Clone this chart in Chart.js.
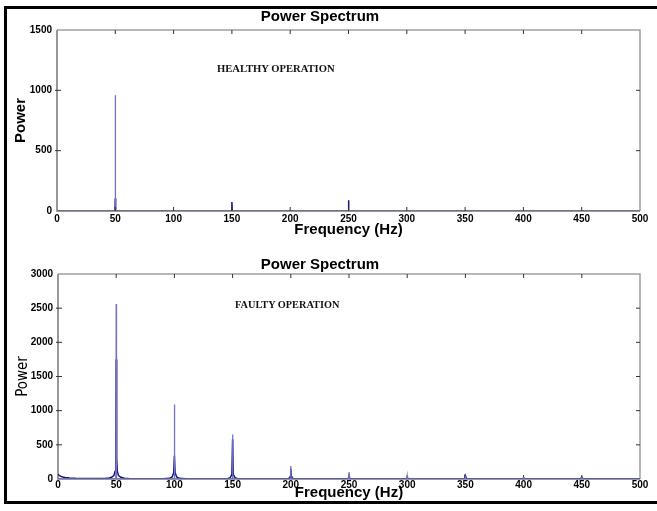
<!DOCTYPE html>
<html>
<head>
<meta charset="utf-8">
<script src="https://cdn.jsdelivr.net/npm/chart.js@4"></script>
<style>
  body { margin: 0; background: #fff; width: 657px; height: 511px; position: relative; overflow: hidden; }
  .box { position: absolute; left: 4px; top: 6px; width: 700px; height: 492px; border-top: 3px solid #000; border-left: 3px solid #000; border-bottom: 3px solid #000; }
  .note { position: absolute; font-family: "Liberation Serif", "Times New Roman", serif; font-weight: bold; white-space: nowrap; color: #111; }
  canvas { position: absolute; left: 0; }
</style>
</head>
<body>
<canvas id="top" width="657" height="240" style="top:8px"></canvas>
<canvas id="bottom" width="657" height="252" style="top:250px"></canvas>
<div class="box"></div>
<div class="note" style="left:217px; top:63px; font-size:10.6px;">HEALTHY OPERATION</div>
<div class="note" style="left:235px; top:299px; font-size:10.3px;">FAULTY OPERATION</div>
<script>
// Espectro de potência - operação saudável
const healthyPeakFreq  = [0, 49.8, 50, 50.2, 500];
const healthyPeakPower = [0, 0, 960, 0, 0];
const healthyBaseFreq  = [0, 49.7, 50, 50.3, 149.7, 150, 150.3, 249.7, 250, 250.3, 500];
const healthyBasePower = [0, 0, 105, 0, 0, 75, 0, 0, 90, 0, 0];

// Espectro de potência - operação com falha
const faultyPeakFreq  = [0, 49.75, 50, 50.25, 99.75, 100, 100.25, 149.75, 150, 150.25,
                         199.75, 200, 200.25, 249.75, 250, 250.25, 299.75, 300, 300.25,
                         349.75, 350, 350.25, 399.75, 400, 400.25, 449.75, 450, 450.25, 500];
const faultyPeakPower = [0, 0, 2560, 0, 0, 1090, 0, 0, 650, 0,
                         0, 190, 0, 0, 100, 0, 0, 40, 0,
                         0, 50, 0, 0, 30, 0, 0, 40, 0, 0];
const faultyBaseFreq  = [0, 1, 2, 4, 6, 10, 15, 20, 30, 40, 44, 46, 48, 49, 49.6, 50, 50.4, 51, 52, 54, 57, 62, 70,
                         90, 96, 98, 99.4, 100, 100.6, 102, 104, 110,
                         145, 148, 149.4, 150, 150.6, 152, 155,
                         197, 199, 199.6, 200, 200.4, 201, 203,
                         248, 249.6, 250, 250.4, 252,
                         299, 300, 301, 349, 349.6, 350, 350.4, 351,
                         399, 400, 401, 449, 450, 451, 500];
const faultyBasePower = [70, 55, 42, 30, 22, 15, 10, 8, 6, 8, 15, 25, 50, 110, 300, 1750, 300, 110, 50, 25, 12, 5, 2,
                         2, 10, 30, 90, 340, 90, 30, 10, 2,
                         2, 20, 70, 580, 70, 20, 2,
                         2, 15, 40, 150, 40, 15, 2,
                         2, 10, 40, 10, 2,
                         2, 20, 2, 2, 30, 15, 30, 2,
                         2, 15, 2, 2, 30, 2, 2];

const xTicks = [0, 50, 100, 150, 200, 250, 300, 350, 400, 450, 500];
const healthyYTicks = [0, 500, 1000, 1500];
const faultyYTicks = [0, 500, 1000, 1500, 2000, 2500, 3000];

const peakColor = "#7373c4";
const baseColor = "#12128a";

function toPoints(xs, ys) {
    return xs.map((x, i) => ({ x: x, y: ys[i] }));
}

// Moldura estilo MATLAB com marcas para dentro
const framePlugin = {
    id: "frame",
    draw(chart) {
        const { ctx, chartArea: a, scales } = chart;
        const len = 4;
        ctx.save();
        ctx.lineWidth = 1.5;
        ctx.strokeStyle = "#a0a0a0";
        ctx.beginPath();
        ctx.moveTo(a.left, a.top); ctx.lineTo(a.right, a.top); ctx.lineTo(a.right, a.bottom);
        ctx.stroke();
        ctx.strokeStyle = "#777";
        ctx.beginPath();
        ctx.moveTo(a.left, a.top); ctx.lineTo(a.left, a.bottom); ctx.lineTo(a.right, a.bottom);
        ctx.stroke();
        ctx.lineWidth = 1;
        ctx.strokeStyle = "#333";
        ctx.beginPath();
        scales.x.ticks.forEach(t => {
            const px = scales.x.getPixelForValue(t.value);
            if (t.value === 0 || t.value === 500) return;
            ctx.moveTo(px, a.top); ctx.lineTo(px, a.top + len);
            ctx.moveTo(px, a.bottom); ctx.lineTo(px, a.bottom - len);
        });
        scales.y.ticks.forEach(t => {
            const py = scales.y.getPixelForValue(t.value);
            if (t.value === scales.y.min || t.value === scales.y.max) return;
            ctx.moveTo(a.left - 2, py); ctx.lineTo(a.left + len, py);
            ctx.moveTo(a.right, py); ctx.lineTo(a.right - len, py);
        });
        ctx.stroke();
        ctx.restore();
    },
    afterDatasetsDraw(chart, args, opts) { if (opts.onTop) this.draw(chart); },
    beforeDatasetsDraw(chart, args, opts) { if (!opts.onTop) this.draw(chart); }
};

const sans = "Liberation Sans, Arial, sans-serif";

function makeChart(id, cfg) {
    return new Chart(document.getElementById(id), {
        type: "scatter",
        data: {
            datasets: [
                { data: toPoints(cfg.peakFreq, cfg.peakPower), borderColor: peakColor, borderWidth: 1.3 },
                { data: toPoints(cfg.baseFreq, cfg.basePower), borderColor: baseColor, borderWidth: 1.5 }
            ].map(d => Object.assign(d, { showLine: true, pointRadius: 0, tension: 0 }))
        },
        options: {
            responsive: false,
            animation: false,
            layout: { padding: { left: 0, right: 17, top: 0, bottom: 0 } },
            plugins: {
                legend: { display: false },
                tooltip: { enabled: false },
                frame: { onTop: cfg.frameOnTop },
                title: {
                    display: true,
                    text: "Power Spectrum",
                    color: "#000",
                    font: { family: sans, size: 15, weight: "bold" },
                    padding: cfg.titlePadding
                }
            },
            scales: {
                x: {
                    type: "linear", min: 0, max: 500,
                    afterBuildTicks: s => { s.ticks = xTicks.map(v => ({ value: v })); },
                    afterFit: s => { s.height = cfg.xHeight; },
                    grid: { display: false, drawTicks: false },
                    border: { display: false },
                    ticks: { padding: cfg.xTickPad, color: "#000", maxRotation: 0, autoSkip: false,
                             callback: v => String(v),
                             font: { family: sans, size: 10, weight: "bold" } },
                    title: { display: true, text: "Frequency (Hz)", color: "#000",
                             padding: { top: 0, bottom: cfg.xTitlePad },
                             font: { family: sans, size: 15, weight: "bold" } }
                },
                y: {
                    min: 0, max: cfg.yMax,
                    afterBuildTicks: s => { s.ticks = cfg.yTicks.map(v => ({ value: v })); },
                    afterFit: s => { s.width = cfg.yWidth; },
                    grid: { display: false, drawTicks: false },
                    border: { display: false },
                    ticks: { padding: 5, color: "#000",
                             callback: v => String(v),
                             font: { family: sans, size: 10, weight: "bold" } },
                    title: { display: true, text: "Power", color: "#000",
                             padding: { top: cfg.yTitlePad, bottom: 0 },
                             font: cfg.yTitleFont }
                }
            }
        },
        plugins: [framePlugin]
    });
}

makeChart("top", {
    peakFreq: healthyPeakFreq, peakPower: healthyPeakPower,
    baseFreq: healthyBaseFreq, basePower: healthyBasePower,
    yMax: 1500, yTicks: healthyYTicks, frameOnTop: true,
    titlePadding: { top: 0, bottom: 4 },
    xHeight: 37, xTickPad: 2, xTitlePad: 9,
    yWidth: 57, yTitlePad: 12,
    yTitleFont: { family: sans, size: 15, weight: "bold" }
});

makeChart("bottom", {
    peakFreq: faultyPeakFreq, peakPower: faultyPeakPower,
    baseFreq: faultyBaseFreq, basePower: faultyBasePower,
    yMax: 3000, yTicks: faultyYTicks, frameOnTop: false,
    titlePadding: { top: 6, bottom: 0 },
    xHeight: 23, xTickPad: 0, xTitlePad: 0,
    yWidth: 58, yTitlePad: 14,
    yTitleFont: { family: "Liberation Sans Narrow, DejaVu Sans Condensed, Liberation Sans, sans-serif", size: 15, weight: "normal" }
});
</script>
</body>
</html>
